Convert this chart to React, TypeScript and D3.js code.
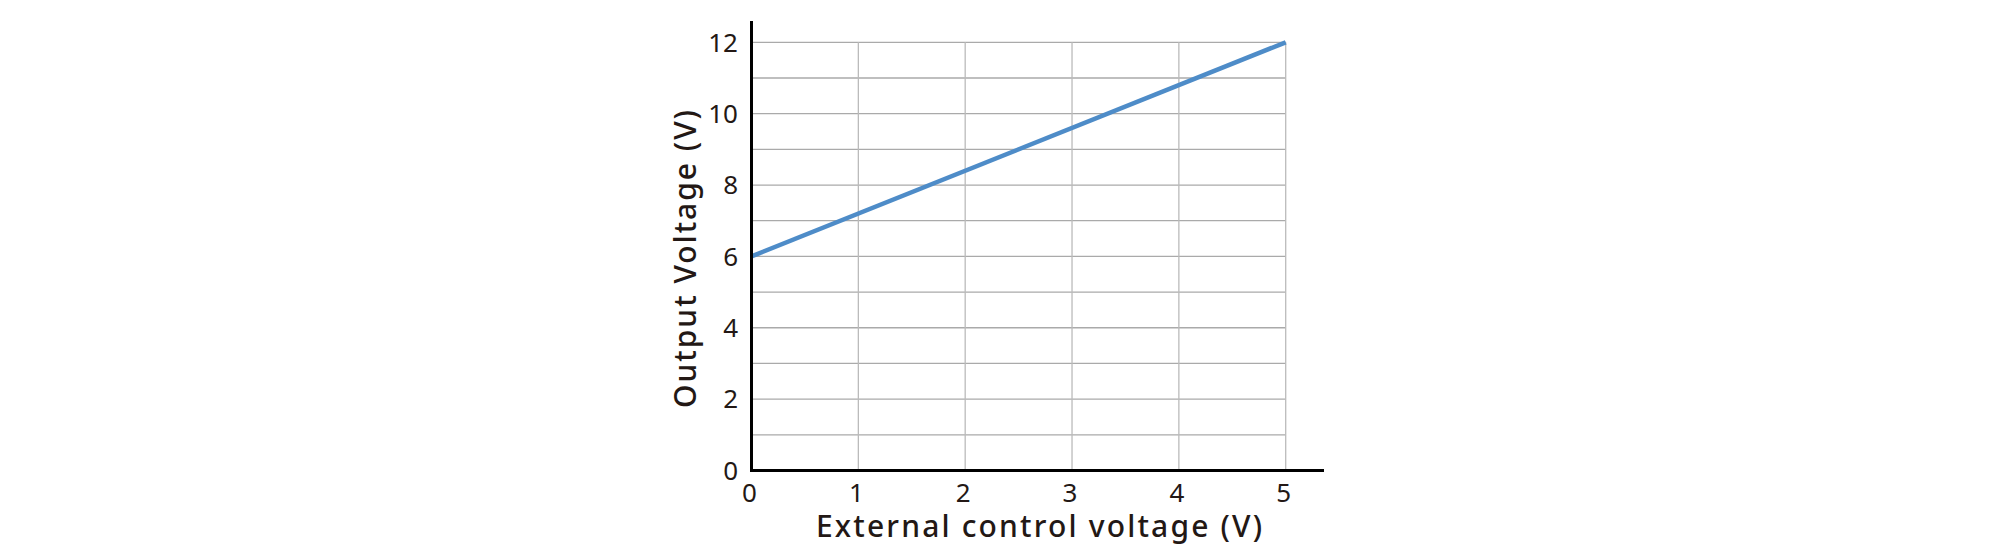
import React from "react";
import * as d3 from "d3";

const xTicks = [0, 1, 2, 3, 4, 5];
const yTicks = [0, 2, 4, 6, 8, 10, 12];
const yGrid = [0, 1, 2, 3, 4, 5, 6, 7, 8, 9, 10, 11, 12];
const seriesX = [0, 5];
const seriesY = [6, 12];
const xTitle = "External control voltage (V)";
const yTitle = "Output Voltage (V)";

export default function App() {
  const W = 2000, H = 560;
  const x = d3.scaleLinear().domain([0, 5]).range([751.5, 1285.7]);
  const y = d3.scaleLinear().domain([0, 12]).range([470.5, 42.3]);
  const pts = seriesX.map((v, i) => [v, seriesY[i]] as [number, number]);
  const line = d3.line<[number, number]>().x(d => x(d[0])).y(d => y(d[1]));
  const font = "'Noto Sans', sans-serif";
  const ink = "#231815";
  return (
    <svg width={W} height={H} style={{ position: "absolute", left: 0, top: 0, background: "#fff" }}>
      {yGrid.map(v => (
        <line key={"h" + v} x1={x(0)} x2={x(5)} y1={y(v)} y2={y(v)} stroke="#aaaaaa" strokeWidth={1.3} />
      ))}
      {xTicks.map(v => (
        <line key={"v" + v} x1={x(v)} x2={x(v)} y1={y(12)} y2={y(0)} stroke="#bbbbbb" strokeWidth={1.3} />
      ))}
      <path d={line(pts) || ""} fill="none" stroke="#4e8cc8" strokeWidth={4.5} />
      <line x1={x(0)} x2={x(0)} y1={21} y2={y(0) + 1.5} stroke="#000" strokeWidth={3} />
      <line x1={x(0) - 1.5} x2={1324} y1={y(0)} y2={y(0)} stroke="#000" strokeWidth={3} />
      {yTicks.map(v => (
        <text key={"yt" + v} x={738} y={y(v)} dy="0.36em" textAnchor="end" fontFamily={font} fontSize={26} fill={ink}>{v}</text>
      ))}
      {xTicks.map(v => (
        <text key={"xt" + v} x={x(v) - 2} y={502} textAnchor="middle" fontFamily={font} fontSize={26} fill={ink}>{v}</text>
      ))}
      <text x={816} y={537} fontFamily={font} fontSize={30} fontWeight={500} fill={ink}
        textLength={446} lengthAdjust="spacing">{xTitle}</text>
      <text transform="translate(696,408) rotate(-90)" x={0} y={0} fontFamily={font} fontSize={30} fontWeight={500} fill={ink}
        textLength={298} lengthAdjust="spacing">{yTitle}</text>
    </svg>
  );
}
